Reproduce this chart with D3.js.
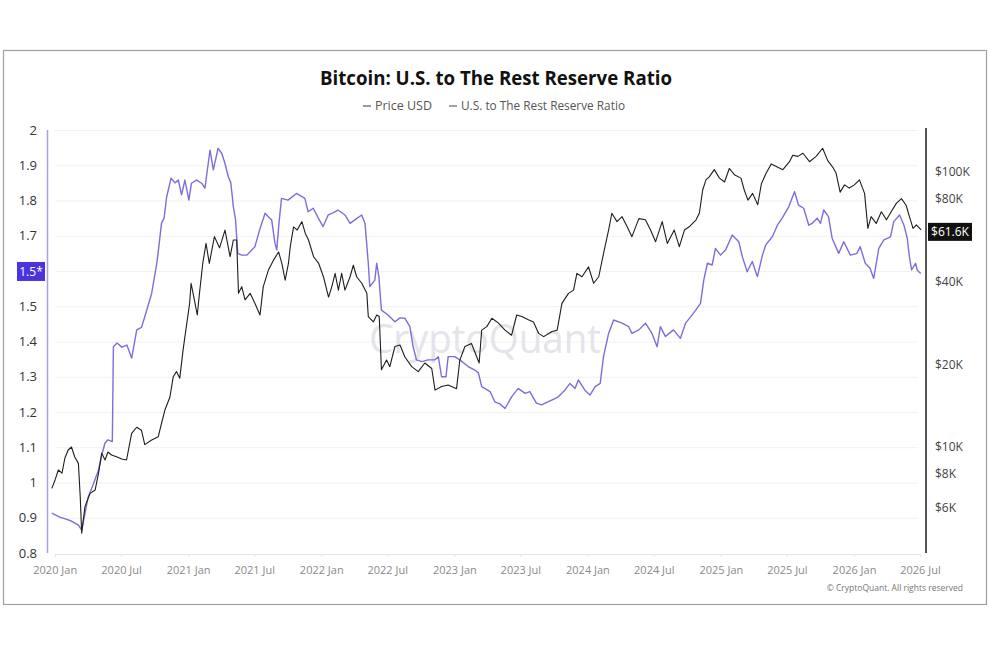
<!DOCTYPE html>
<html>
<head>
<meta charset="utf-8">
<script src="https://cdn.jsdelivr.net/npm/d3@7"></script>
<style>
  html, body { margin: 0; padding: 0; background: #fff; }
  svg { display: block; font-family: "Open Sans", "Noto Sans", sans-serif; }
</style>
</head>
<body>
<div id="chart"></div>
<script>
// ---- Data
const ratioSeries = [
  ["2019-12-24",0.913],["2020-01-15",0.902],["2020-02-01",0.896],["2020-02-17",0.890],["2020-03-06",0.879],
  ["2020-03-15",0.865],["2020-04-02",0.959],["2020-04-15",0.993],["2020-04-30",1.035],["2020-05-09",1.078],
  ["2020-05-18",1.112],["2020-05-26",1.121],["2020-06-07",1.116],["2020-06-10",1.385],["2020-06-20",1.396],
  ["2020-07-03",1.384],["2020-07-17",1.390],["2020-07-30",1.353],["2020-08-13",1.433],["2020-08-26",1.440],
  ["2020-09-04",1.470],["2020-09-23",1.537],["2020-10-07",1.622],["2020-10-11",1.655],["2020-10-20",1.736],
  ["2020-10-27",1.750],["2020-11-03",1.810],["2020-11-15",1.863],["2020-11-26",1.850],["2020-12-05",1.858],
  ["2020-12-14",1.816],["2020-12-23",1.858],["2021-01-03",1.801],["2021-01-10",1.849],["2021-01-24",1.858],
  ["2021-02-07",1.849],["2021-02-16",1.835],["2021-02-25",1.905],["2021-03-02",1.943],["2021-03-11",1.887],
  ["2021-03-24",1.948],["2021-04-03",1.934],["2021-04-12",1.905],["2021-04-21",1.868],["2021-04-28",1.850],
  ["2021-05-05",1.782],["2021-05-11",1.745],["2021-05-17",1.650],["2021-05-28",1.645],["2021-06-11",1.645],
  ["2021-07-03",1.669],["2021-07-17",1.720],["2021-07-31",1.764],["2021-08-09",1.754],["2021-08-18",1.745],
  ["2021-08-27",1.679],["2021-09-01",1.660],["2021-09-07",1.735],["2021-09-14",1.806],["2021-10-02",1.801],
  ["2021-10-25",1.820],["2021-11-17",1.806],["2021-11-26",1.768],["2021-12-10",1.778],["2021-12-24",1.750],
  ["2022-01-06",1.726],["2022-01-20",1.759],["2022-02-02",1.765],["2022-02-16",1.773],["2022-03-07",1.759],
  ["2022-03-21",1.735],["2022-04-03",1.745],["2022-04-22",1.759],["2022-05-01",1.735],["2022-05-10",1.622],
  ["2022-05-14",1.556],["2022-05-28",1.574],["2022-06-02",1.622],["2022-06-08",1.584],["2022-06-15",1.489],
  ["2022-07-03",1.475],["2022-07-22",1.456],["2022-08-05",1.467],["2022-08-18",1.466],["2022-09-01",1.442],
  ["2022-09-10",1.385],["2022-09-19",1.348],["2022-10-04",1.343],["2022-10-21",1.348],["2022-11-09",1.348],
  ["2022-11-18",1.357],["2022-11-27",1.300],["2022-12-09",1.300],["2022-12-15",1.357],["2023-01-02",1.357],
  ["2023-01-16",1.348],["2023-02-08",1.329],["2023-02-26",1.319],["2023-03-08",1.311],["2023-03-17",1.272],
  ["2023-04-09",1.258],["2023-04-22",1.229],["2023-05-06",1.223],["2023-05-20",1.210],["2023-06-07",1.243],
  ["2023-06-25",1.267],["2023-07-14",1.253],["2023-07-27",1.258],["2023-08-14",1.225],["2023-08-28",1.220],
  ["2023-09-25",1.234],["2023-10-13",1.243],["2023-10-31",1.262],["2023-11-14",1.281],["2023-11-28",1.267],
  ["2023-12-07",1.291],["2023-12-25",1.262],["2024-01-08",1.248],["2024-01-22",1.272],["2024-02-05",1.281],
  ["2024-02-14",1.357],["2024-02-28",1.423],["2024-03-13",1.461],["2024-04-05",1.452],["2024-04-23",1.442],
  ["2024-05-02",1.423],["2024-05-21",1.433],["2024-06-08",1.452],["2024-06-26",1.423],["2024-07-10",1.385],
  ["2024-07-19",1.442],["2024-08-02",1.414],["2024-08-24",1.433],["2024-09-12",1.409],["2024-09-26",1.452],
  ["2024-10-10",1.470],["2024-10-24",1.489],["2024-11-06",1.508],["2024-11-15",1.574],["2024-11-25",1.622],
  ["2024-12-08",1.617],["2024-12-17",1.664],["2024-12-31",1.645],["2025-01-14",1.660],["2025-02-01",1.702],
  ["2025-02-19",1.683],["2025-03-01",1.640],["2025-03-14",1.598],["2025-03-28",1.627],["2025-04-11",1.584],
  ["2025-04-25",1.645],["2025-05-04",1.674],["2025-05-22",1.697],["2025-06-05",1.730],["2025-06-18",1.750],
  ["2025-07-06",1.782],["2025-07-22",1.825],["2025-08-02",1.787],["2025-08-16",1.778],["2025-08-30",1.730],
  ["2025-09-08",1.735],["2025-09-22",1.750],["2025-10-01",1.735],["2025-10-10",1.773],["2025-10-23",1.754],
  ["2025-11-02",1.693],["2025-11-20",1.650],["2025-12-04",1.683],["2025-12-22",1.645],["2026-01-09",1.650],
  ["2026-01-18",1.669],["2026-02-01",1.622],["2026-02-14",1.608],["2026-02-24",1.579],["2026-03-10",1.664],
  ["2026-03-24",1.688],["2026-04-11",1.697],["2026-04-20",1.740],["2026-05-06",1.759],["2026-05-18",1.730],
  ["2026-05-27",1.693],["2026-06-02",1.640],["2026-06-08",1.603],["2026-06-19",1.622],["2026-06-23",1.603],
  ["2026-07-03",1.593]
];

const priceSeries = [
  ["2019-12-24",7070],["2020-01-02",7590],["2020-01-11",8250],["2020-01-21",8040],["2020-01-29",9120],
  ["2020-02-07",9750],["2020-02-16",10000],["2020-02-25",9200],["2020-03-06",8720],["2020-03-11",6600],
  ["2020-03-15",4860],["2020-03-24",6070],["2020-04-07",6780],["2020-04-21",6980],["2020-04-30",8000],
  ["2020-05-09",9500],["2020-05-18",8970],["2020-05-26",9590],["2020-06-05",9350],["2020-06-20",9200],
  ["2020-07-03",9040],["2020-07-16",8970],["2020-07-30",11200],["2020-08-13",11800],["2020-08-26",11500],
  ["2020-09-04",10200],["2020-09-23",10600],["2020-10-11",10900],["2020-10-20",12200],["2020-10-29",13600],
  ["2020-11-12",15200],["2020-11-21",18000],["2020-11-30",18800],["2020-12-09",17800],["2020-12-18",22500],
  ["2020-12-27",27400],["2021-01-05",33300],["2021-01-09",39400],["2021-01-18",34300],["2021-01-26",30200],
  ["2021-02-01",36200],["2021-02-10",46500],["2021-02-19",55000],["2021-02-28",46500],["2021-03-14",58200],
  ["2021-03-28",53000],["2021-04-12",61500],["2021-04-26",49200],["2021-05-05",56600],["2021-05-14",56600],
  ["2021-05-19",36200],["2021-05-28",38300],["2021-06-06",34300],["2021-06-20",36200],["2021-07-03",33300],
  ["2021-07-17",30200],["2021-07-26",38300],["2021-08-09",44000],["2021-08-23",47800],["2021-09-06",51200],
  ["2021-09-15",46500],["2021-09-24",40400],["2021-10-03",46500],["2021-10-08",53500],["2021-10-17",63200],
  ["2021-10-27",61500],["2021-11-09",66000],["2021-11-18",59900],["2021-11-27",56600],["2021-12-11",49200],
  ["2021-12-25",46500],["2022-01-07",41600],["2022-01-21",35100],["2022-01-30",38300],["2022-02-08",42800],
  ["2022-02-17",37200],["2022-02-26",42800],["2022-03-07",37200],["2022-03-21",41600],["2022-03-30",45800],
  ["2022-04-08",41600],["2022-04-22",39400],["2022-05-06",36200],["2022-05-10",29800],["2022-05-24",28500],
  ["2022-06-02",30200],["2022-06-09",29800],["2022-06-15",19100],["2022-06-29",20700],["2022-07-08",19600],
  ["2022-07-22",23200],["2022-08-05",23500],["2022-08-18",21300],["2022-09-06",19600],["2022-09-24",18800],
  ["2022-10-12",20200],["2022-10-31",19300],["2022-11-09",16100],["2022-11-27",16600],["2022-12-15",16800],
  ["2023-01-07",16300],["2023-01-16",20700],["2023-01-30",23200],["2023-02-17",23800],["2023-03-10",20200],
  ["2023-03-17",26600],["2023-03-31",27400],["2023-04-14",29400],["2023-05-02",28200],["2023-05-20",26600],
  ["2023-06-07",25500],["2023-06-21",30200],["2023-07-05",29800],["2023-07-23",29000],["2023-08-06",28500],
  ["2023-08-20",25900],["2023-09-03",25200],["2023-09-26",26300],["2023-10-10",26600],["2023-10-23",33300],
  ["2023-11-10",36200],["2023-11-24",37200],["2023-12-03",42800],["2023-12-17",41600],["2024-01-04",45200],
  ["2024-01-18",39400],["2024-02-01",41600],["2024-02-14",50500],["2024-02-28",61500],["2024-03-08",70800],
  ["2024-03-22",66000],["2024-04-05",68800],["2024-04-19",63200],["2024-05-02",58200],["2024-05-21",67700],
  ["2024-06-08",67000],["2024-06-22",61500],["2024-07-06",55800],["2024-07-24",66000],["2024-08-07",55000],
  ["2024-08-26",61500],["2024-09-09",53500],["2024-09-23",61500],["2024-10-06",63200],["2024-10-25",67000],
  ["2024-11-03",70900],["2024-11-12",86000],["2024-11-21",93600],["2024-11-30",96000],["2024-12-14",102000],
  ["2024-12-28",95000],["2025-01-11",92000],["2025-01-24",103000],["2025-02-07",97700],["2025-02-25",95000],
  ["2025-03-06",86000],["2025-03-16",79000],["2025-03-29",83600],["2025-04-12",76000],["2025-04-22",90600],
  ["2025-05-05",98900],["2025-05-19",107000],["2025-06-06",104000],["2025-06-20",102000],["2025-07-08",109000],
  ["2025-07-17",115000],["2025-07-31",114000],["2025-08-14",117000],["2025-09-01",109000],["2025-09-19",114000],
  ["2025-10-07",122000],["2025-10-21",110000],["2025-11-04",104000],["2025-11-13",98900],["2025-11-24",84500],
  ["2025-12-06",89800],["2025-12-19",87400],["2026-01-02",89800],["2026-01-16",93600],["2026-01-30",83600],
  ["2026-02-08",62400],["2026-02-17",68800],["2026-03-03",65000],["2026-03-17",71700],["2026-03-31",67000],
  ["2026-04-13",71700],["2026-04-27",76900],["2026-05-11",80000],["2026-05-24",75700],["2026-06-02",68800],
  ["2026-06-12",62400],["2026-06-21",64200],["2026-07-04",61600]
];

const xTickDates = ["2020-01-01","2020-07-01","2021-01-01","2021-07-01","2022-01-01","2022-07-01","2023-01-01",
  "2023-07-01","2024-01-01","2024-07-01","2025-01-01","2025-07-01","2026-01-01","2026-07-01"];
const ratioGrid = [0.9, 1, 1.1, 1.2, 1.3, 1.4, 1.5, 1.6, 1.7, 1.8, 1.9, 2];
// 1.6 is covered by the last-value badge in the reference, so it has no label
const ratioTicks = [0.8, 0.9, 1, 1.1, 1.2, 1.3, 1.4, 1.5, 1.7, 1.8, 1.9, 2];
const priceTicks = [6000, 8000, 10000, 20000, 40000, 80000, 100000];
const ratioBadge = "1.5*";
const priceBadge = "$61.6K";

const titleText = "Bitcoin: U.S. to The Rest Reserve Ratio";
const legendItems = [
  { label: "Price USD", color: "#555" },
  { label: "U.S. to The Rest Reserve Ratio", color: "#666" }
];

// ---- Layout
const W = 990, H = 660;
const plot = { left: 47, right: 926, top: 130, bottom: 553 };
const COLOR_RATIO = "#7a6fdc";
const COLOR_PRICE = "#1e1e1e";

const parse = d3.utcParse("%Y-%m-%d");
const monthFmt = d3.utcFormat("%Y %b");

const svg = d3.select("#chart").append("svg")
  .attr("width", W).attr("height", H);

svg.append("rect").attr("width", W).attr("height", H).attr("fill", "#fff");

// ---- Frame
svg.append("rect")
  .attr("x", 3.5).attr("y", 50.5)
  .attr("width", 983).attr("height", 554)
  .attr("fill", "none").attr("stroke", "#a0a0a0").attr("stroke-width", 1.2);

// ---- Scales
const x = d3.scaleUtc()
  .domain([parse("2020-01-01"), parse("2026-07-01")])
  .range([54.7, 920]);
const yRatio = d3.scaleLinear().domain([0.8, 2]).range([plot.bottom, plot.top]);
const yPrice = d3.scaleLog().domain([10000, 100000]).range([447, 172]);

// ---- Grid
svg.append("g").selectAll("line").data(ratioGrid).join("line")
  .attr("x1", plot.left + 8).attr("x2", 918)
  .attr("y1", d => yRatio(d) + 0.5).attr("y2", d => yRatio(d) + 0.5)
  .attr("stroke", "#f1f1f3").attr("stroke-width", 1);

// ---- Watermark
svg.append("text")
  .attr("x", 485).attr("y", 353)
  .attr("text-anchor", "middle")
  .attr("font-size", 41).attr("font-weight", 500)
  .attr("fill", "#e4e4ea")
  .attr("textLength", 232).attr("lengthAdjust", "spacingAndGlyphs")
  .text("CryptoQuant");

// ---- X axis
const xAxis = svg.append("g")
  .attr("transform", `translate(0, ${plot.bottom + 1})`)
  .call(d3.axisBottom(x)
    .tickValues(xTickDates.map(parse))
    .tickFormat(monthFmt)
    .tickSize(3)
    .tickPadding(9));
xAxis.select(".domain").remove();
xAxis.insert("line", ":first-child")
  .attr("x1", plot.left + 8).attr("x2", 920)
  .attr("y1", 0.5).attr("y2", 0.5)
  .attr("stroke", "#e6e6e8");
xAxis.selectAll(".tick line").attr("stroke", "#e6e6e8");
xAxis.selectAll(".tick text")
  .attr("fill", "#8a8a8a").attr("font-size", 11)
  .attr("font-family", "'Open Sans', sans-serif");

// ---- Left axis
const leftAxis = svg.append("g")
  .attr("transform", `translate(${plot.left}, 0)`)
  .call(d3.axisLeft(yRatio)
    .tickValues(ratioTicks)
    .tickFormat(d => String(+d.toFixed(1)))
    .tickSize(0)
    .tickPadding(10));
leftAxis.select(".domain")
  .attr("stroke", "#a9a0e6").attr("stroke-width", 1.5)
  .attr("d", `M0.5,${plot.top}V${plot.bottom}`);
leftAxis.selectAll(".tick text")
  .attr("fill", "#333").attr("font-size", 13)
  .attr("font-family", "'Open Sans', sans-serif");

// ---- Right axis
const rightAxis = svg.append("g")
  .attr("transform", `translate(${plot.right}, 0)`)
  .call(d3.axisRight(yPrice)
    .tickValues(priceTicks)
    .tickFormat(d => "$" + d / 1000 + "K")
    .tickSize(0)
    .tickPadding(9));
rightAxis.select(".domain")
  .attr("stroke", "#555").attr("stroke-width", 2)
  .attr("d", `M0,${plot.top - 2}V${plot.bottom}`);
rightAxis.selectAll(".tick text")
  .attr("fill", "#444").attr("font-size", 12)
  .attr("font-family", "'Open Sans', sans-serif");

// ---- Lines
const ratioLine = d3.line()
  .x(d => x(parse(d[0])))
  .y(d => yRatio(d[1]));
const priceLine = d3.line()
  .x(d => x(parse(d[0])))
  .y(d => yPrice(d[1]));

svg.append("path").datum(ratioSeries)
  .attr("d", ratioLine)
  .attr("fill", "none").attr("stroke", COLOR_RATIO)
  .attr("stroke-width", 1.4).attr("stroke-linejoin", "round");

svg.append("path").datum(priceSeries)
  .attr("d", priceLine)
  .attr("fill", "none").attr("stroke", COLOR_PRICE)
  .attr("stroke-width", 1.1).attr("stroke-linejoin", "round");

// ---- Last-value badges
const lastRatio = ratioSeries[ratioSeries.length - 1][1];
const rb = svg.append("g").attr("transform", `translate(0, ${yRatio(lastRatio) - 2})`);
rb.append("rect").attr("x", 17).attr("y", -9.5).attr("width", 28).attr("height", 19)
  .attr("fill", "#4b34e0");
rb.append("text").attr("x", 31).attr("y", 4.5).attr("text-anchor", "middle")
  .attr("fill", "#fff").attr("font-size", 12).text(ratioBadge);

const lastPrice = priceSeries[priceSeries.length - 1][1];
const pb = svg.append("g").attr("transform", `translate(0, ${yPrice(lastPrice) + 2})`);
pb.append("rect").attr("x", 928).attr("y", -9).attr("width", 44).attr("height", 18)
  .attr("fill", "#111");
pb.append("text").attr("x", 950).attr("y", 4.3).attr("text-anchor", "middle")
  .attr("fill", "#fff").attr("font-size", 12).text(priceBadge);

// ---- Title
svg.append("text")
  .attr("x", 496).attr("y", 85)
  .attr("text-anchor", "middle")
  .attr("font-size", 20).attr("font-weight", 700).attr("fill", "#111")
  .attr("textLength", 352).attr("lengthAdjust", "spacingAndGlyphs")
  .text(titleText);

// ---- Legend
const legend = svg.append("g").attr("transform", "translate(363, 110)");
const legendLayout = [{ x: 0, w: 57 }, { x: 86, w: 164 }];
legendItems.forEach((item, i) => {
  const g = legend.append("g").attr("transform", `translate(${legendLayout[i].x}, 0)`);
  g.append("line").attr("x1", 0).attr("x2", 8).attr("y1", -4).attr("y2", -4)
    .attr("stroke", item.color).attr("stroke-width", 1.2);
  g.append("text").attr("x", 12).attr("y", 0)
    .attr("font-size", 12).attr("fill", "#555")
    .attr("textLength", legendLayout[i].w).attr("lengthAdjust", "spacingAndGlyphs")
    .text(item.label);
});

// ---- Copyright
svg.append("text")
  .attr("x", 963).attr("y", 591)
  .attr("text-anchor", "end")
  .attr("font-size", 8.5).attr("fill", "#777")
  .text("© CryptoQuant. All rights reserved");
</script>
</body>
</html>
